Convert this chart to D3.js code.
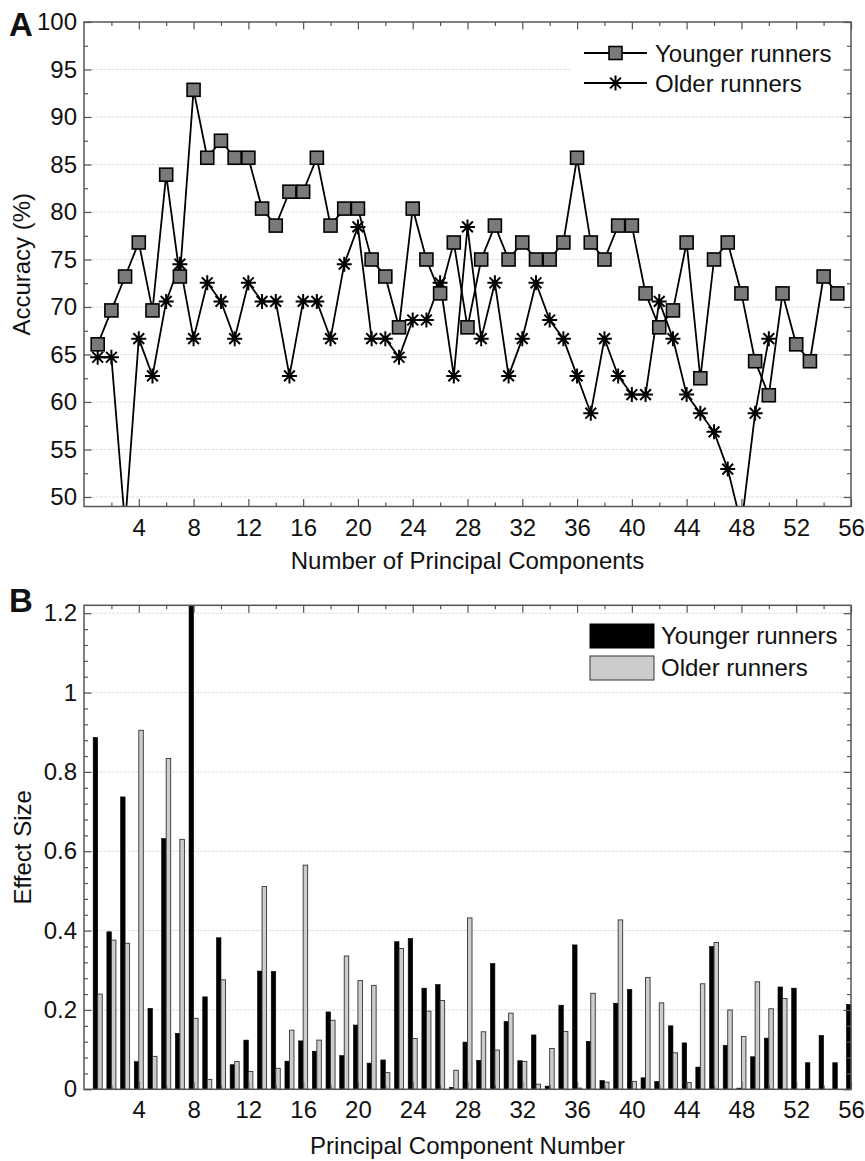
<!DOCTYPE html>
<html lang="en">
<head>
<meta charset="UTF-8">
<title>Accuracy and effect size by principal component</title>
<script src="https://d3js.org/d3.v7.min.js"></script>
<style>
    body { margin: 0; background: #fff; }
    svg text { font-family: "Liberation Sans", Arial, sans-serif; fill: #111; }
</style>
</head>
<body>
<div id="chart"></div>
<script>
// ---- data ----
const pcNumbers = d3.range(1, 57);
const xTickLabels = [4, 8, 12, 16, 20, 24, 28, 32, 36, 40, 44, 48, 52, 56];
const accTickLabels = [50, 55, 60, 65, 70, 75, 80, 85, 90, 95, 100];
const effectTickLabels = [0, 0.2, 0.4, 0.6, 0.8, 1, 1.2];

// panel A: accuracy (%) for 1..55 (younger) and 1..50 (older) components
const youngerAcc = [66.07, 69.64, 73.21, 76.79, 69.64, 83.93, 73.21, 92.86, 85.71, 87.5,
    85.71, 85.71, 80.36, 78.57, 82.14, 82.14, 85.71, 78.57, 80.36, 80.36,
    75, 73.21, 67.86, 80.36, 75, 71.43, 76.79, 67.86, 75, 78.57,
    75, 76.79, 75, 75, 76.79, 85.71, 76.79, 75, 78.57, 78.57,
    71.43, 67.86, 69.64, 76.79, 62.5, 75, 76.79, 71.43, 64.29, 60.71,
    71.43, 66.07, 64.29, 73.21, 71.43];
const olderAcc = [64.71, 64.71, 47.06, 66.67, 62.75, 70.59, 74.51, 66.67, 72.55, 70.59,
    66.67, 72.55, 70.59, 70.59, 62.75, 70.59, 70.59, 66.67, 74.51, 78.43,
    66.67, 66.67, 64.71, 68.63, 68.63, 72.55, 62.75, 78.43, 66.67, 72.55,
    62.75, 66.67, 72.55, 68.63, 66.67, 62.75, 58.82, 66.67, 62.75, 60.78,
    60.78, 70.59, 66.67, 60.78, 58.82, 56.86, 52.94, 47.06, 58.82, 66.67];

// panel B: effect size for components 1..56
const youngerEffect = [0.887, 0.397, 0.737, 0.070, 0.204, 0.632, 0.141, 1.22, 0.233, 0.382,
    0.062, 0.124, 0.298, 0.297, 0.071, 0.122, 0.096, 0.195, 0.085, 0.162,
    0.066, 0.074, 0.372, 0.380, 0.255, 0.264, 0.005, 0.119, 0.073, 0.317,
    0.171, 0.072, 0.137, 0.008, 0.212, 0.364, 0.121, 0.022, 0.217, 0.252,
    0.029, 0.020, 0.160, 0.117, 0.056, 0.360, 0.111, 0.003, 0.082, 0.129,
    0.258, 0.255, 0.067, 0.136, 0.067, 0.214];
const olderEffect = [0.240, 0.376, 0.368, 0.905, 0.083, 0.834, 0.630, 0.179, 0.025, 0.276,
    0.070, 0.045, 0.511, 0.053, 0.149, 0.565, 0.124, 0.174, 0.336, 0.274,
    0.262, 0.042, 0.355, 0.128, 0.197, 0.224, 0.048, 0.432, 0.145, 0.099,
    0.192, 0.070, 0.013, 0.103, 0.146, 0.003, 0.242, 0.018, 0.427, 0.020,
    0.282, 0.218, 0.092, 0.017, 0.266, 0.370, 0.200, 0.133, 0.271, 0.203,
    0.229, 0, 0, 0, 0, 0];

const W = 865, H = 1161;
const axisColor = "#555";
const fontSize = 24;

const svg = d3.select("#chart").append("svg")
    .attr("width", W)
    .attr("height", H);

const plotLeft = 84, plotRight = 851;

// draws gridlines behind the data
function grid(g, x, y, values) {
    g.append("g").selectAll("line").data(values).join("line")
        .attr("x1", x.range()[0]).attr("x2", x.range()[1])
        .attr("y1", d => y(d)).attr("y2", d => y(d))
        .attr("stroke", "#dedede")
        .attr("stroke-width", 1)
        .attr("stroke-dasharray", "3,1");
}

// one side of the frame: inward ticks, optional labels
function side(g, axisFn, scale, values, size, fmt, transform, pad) {
    const ax = axisFn(scale)
        .tickValues(values)
        .tickSizeInner(-size)
        .tickSizeOuter(0)
        .tickPadding(pad)
        .tickFormat(fmt || (() => ""));
    const s = g.append("g").attr("transform", transform).call(ax);
    s.attr("font-size", null).attr("font-family", null);
    s.select(".domain").remove();
    s.selectAll("line").attr("stroke", axisColor).attr("stroke-width", 1.2);
    s.selectAll("text").attr("font-size", fontSize).attr("fill", "#111");
}

function frame(g, x, y, xMinor, yMinor, yMajor, yFmt) {
    const [x0, x1] = x.range();
    const [yb, yt] = y.range();
    const xMajor = xTickLabels;
    side(g, d3.axisBottom, x, xMinor, 4, null, `translate(0,${yb})`, 12);
    side(g, d3.axisBottom, x, xMajor, 7.5, d3.format("d"), `translate(0,${yb})`, 12);
    side(g, d3.axisTop, x, xMinor, 4, null, `translate(0,${yt})`, 0);
    side(g, d3.axisTop, x, xMajor, 7.5, null, `translate(0,${yt})`, 0);
    side(g, d3.axisLeft, y, yMinor, 4, null, `translate(${x0},0)`, 0);
    side(g, d3.axisLeft, y, yMajor, 7.5, yFmt, `translate(${x0},0)`, 7);
    side(g, d3.axisRight, y, yMinor, 4, null, `translate(${x1},0)`, 0);
    side(g, d3.axisRight, y, yMajor, 7.5, null, `translate(${x1},0)`, 0);
    g.append("rect")
        .attr("x", x0).attr("y", yt)
        .attr("width", x1 - x0).attr("height", yb - yt)
        .attr("fill", "none")
        .attr("stroke", axisColor)
        .attr("stroke-width", 1.5);
}

const xMinorTicks = d3.range(2, 56, 4);

// ================= panel A =================
const gA = svg.append("g");
const xA = d3.scaleLinear().domain([0, 56]).range([plotLeft, plotRight]);
const yA = d3.scaleLinear().domain([49, 100]).range([506.5, 22]);

grid(gA, xA, yA, accTickLabels.filter(d => d < 100));

svg.append("clipPath").attr("id", "clipA")
    .append("rect")
    .attr("x", plotLeft).attr("y", yA(100))
    .attr("width", plotRight - plotLeft).attr("height", yA(49) - yA(100));

const lineA = d3.line().x(d => xA(d.x)).y(d => yA(d.y));
const youngerPts = youngerAcc.map((v, i) => ({ x: i + 1, y: v }));
const olderPts = olderAcc.map((v, i) => ({ x: i + 1, y: v }));

const dataA = gA.append("g").attr("clip-path", "url(#clipA)");

const asterisk = r => {
    const d = r * 0.72;
    return `M${-r},0H${r}M0,${-r}V${r}M${-d},${-d}L${d},${d}M${-d},${d}L${d},${-d}`;
};

dataA.append("path").datum(olderPts)
    .attr("d", lineA).attr("fill", "none")
    .attr("stroke", "#000").attr("stroke-width", 1.8);
dataA.append("path").datum(youngerPts)
    .attr("d", lineA).attr("fill", "none")
    .attr("stroke", "#000").attr("stroke-width", 1.8);

dataA.selectAll(".star").data(olderPts).join("path")
    .attr("class", "star")
    .attr("transform", d => `translate(${xA(d.x)},${yA(d.y)})`)
    .attr("d", asterisk(7.5))
    .attr("stroke", "#000").attr("stroke-width", 2).attr("fill", "none");

dataA.selectAll(".sq").data(youngerPts).join("rect")
    .attr("class", "sq")
    .attr("x", d => xA(d.x) - 6.5).attr("y", d => yA(d.y) - 6.5)
    .attr("width", 13).attr("height", 13)
    .attr("fill", "#7a7a7a")
    .attr("stroke", "#000").attr("stroke-width", 1.6);

// legend A
const legA = gA.append("g");
legA.append("rect").attr("x", 570).attr("y", 30).attr("width", 276).attr("height", 72).attr("fill", "#fff");
legA.append("line").attr("x1", 584).attr("x2", 647).attr("y1", 53).attr("y2", 53)
    .attr("stroke", "#000").attr("stroke-width", 1.8);
legA.append("rect").attr("x", 609).attr("y", 46.5).attr("width", 13).attr("height", 13)
    .attr("fill", "#7a7a7a").attr("stroke", "#000").attr("stroke-width", 1.6);
legA.append("text").attr("x", 655).attr("y", 62).attr("font-size", fontSize).text("Younger runners");
legA.append("line").attr("x1", 584).attr("x2", 647).attr("y1", 83).attr("y2", 83)
    .attr("stroke", "#000").attr("stroke-width", 1.8);
legA.append("path").attr("transform", "translate(615.5,83)").attr("d", asterisk(7.5))
    .attr("stroke", "#000").attr("stroke-width", 2).attr("fill", "none");
legA.append("text").attr("x", 655).attr("y", 92).attr("font-size", fontSize).text("Older runners");

frame(gA, xA, yA, xMinorTicks, d3.range(52.5, 100, 5), accTickLabels, d3.format("d"));

gA.append("text")
    .attr("transform", `translate(30,${(yA(100) + yA(49)) / 2}) rotate(-90)`)
    .attr("text-anchor", "middle").attr("font-size", fontSize)
    .text("Accuracy (%)");
gA.append("text")
    .attr("x", (plotLeft + plotRight) / 2).attr("y", 569)
    .attr("text-anchor", "middle").attr("font-size", fontSize)
    .text("Number of Principal Components");
gA.append("text")
    .attr("x", 9).attr("y", 36)
    .attr("font-size", 33).attr("font-weight", "bold")
    .text("A");

// ================= panel B =================
const gB = svg.append("g");
const xB = d3.scaleLinear().domain([0, 56]).range([plotLeft, plotRight]);
const yB = d3.scaleLinear().domain([0, 1.22]).range([1089.3, 605.3]);

grid(gB, xB, yB, effectTickLabels.filter(d => d > 0));

const bw = xB(0.33) - xB(0);
const barsY = youngerEffect.map((v, i) => ({ pc: pcNumbers[i], v }));
const barsO = olderEffect.map((v, i) => ({ pc: pcNumbers[i], v })).filter(d => d.v > 0);

gB.append("g").selectAll("rect").data(barsY).join("rect")
    .attr("x", d => xB(d.pc) - bw).attr("width", bw)
    .attr("y", d => yB(d.v)).attr("height", d => yB(0) - yB(d.v))
    .attr("fill", "#000").attr("stroke", "#000").attr("stroke-width", 0.6);

gB.append("g").selectAll("rect").data(barsO).join("rect")
    .attr("x", d => xB(d.pc)).attr("width", bw)
    .attr("y", d => yB(d.v)).attr("height", d => yB(0) - yB(d.v))
    .attr("fill", "#cccccc").attr("stroke", "#333").attr("stroke-width", 0.9);

// legend B
const legB = gB.append("g");
legB.append("rect").attr("x", 578).attr("y", 617).attr("width", 268).attr("height", 71).attr("fill", "#fff");
legB.append("rect").attr("x", 590).attr("y", 624).attr("width", 64).attr("height", 24)
    .attr("fill", "#000").attr("stroke", "#000");
legB.append("text").attr("x", 661).attr("y", 644).attr("font-size", fontSize).text("Younger runners");
legB.append("rect").attr("x", 590).attr("y", 656).attr("width", 64).attr("height", 24)
    .attr("fill", "#cccccc").attr("stroke", "#333").attr("stroke-width", 1);
legB.append("text").attr("x", 661).attr("y", 676).attr("font-size", fontSize).text("Older runners");

frame(gB, xB, yB, xMinorTicks, d3.range(0.04, 1.22, 0.04).filter(d => Math.abs(d / 0.2 - Math.round(d / 0.2)) > 1e-6),
    effectTickLabels, d => d3.format("")(+d.toFixed(1)));

gB.append("text")
    .attr("transform", `translate(31,${(yB(0) + yB(1.22)) / 2}) rotate(-90)`)
    .attr("text-anchor", "middle").attr("font-size", fontSize)
    .text("Effect Size");
gB.append("text")
    .attr("x", (plotLeft + plotRight) / 2).attr("y", 1154)
    .attr("text-anchor", "middle").attr("font-size", fontSize)
    .text("Principal Component Number");
gB.append("text")
    .attr("x", 9).attr("y", 612)
    .attr("font-size", 33).attr("font-weight", "bold")
    .text("B");
</script>
</body>
</html>
